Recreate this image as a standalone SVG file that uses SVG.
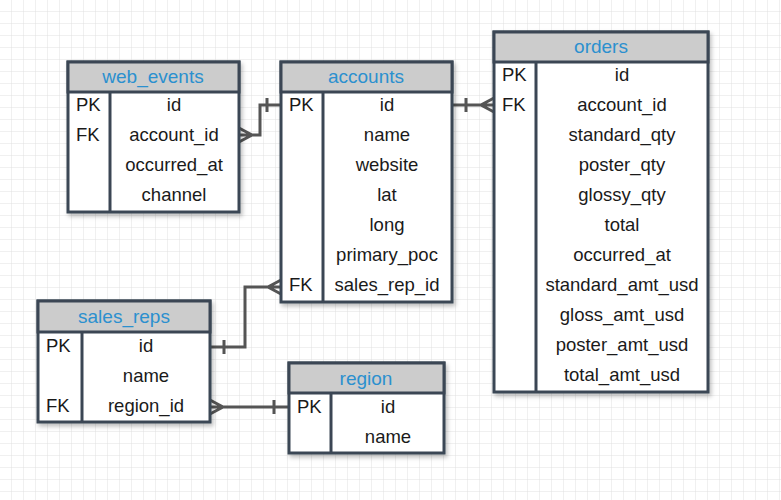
<svg xmlns="http://www.w3.org/2000/svg" width="781" height="500" viewBox="0 0 781 500">
<defs>
<pattern id="g" width="12" height="12" patternUnits="userSpaceOnUse"><path d="M12 0V12M0 12H12" fill="none" stroke="#e0e0e0" stroke-width="1"/></pattern>
<filter id="s" x="-10%" y="-10%" width="130%" height="130%"><feDropShadow dx="2" dy="3" stdDeviation="2" flood-color="#000" flood-opacity="0.25"/></filter>
</defs>
<style>
.b{fill:#fff;stroke:#3b4654;stroke-width:3;filter:url(#s)}
.h{fill:#cccccc;stroke:#3b4654;stroke-width:3}
.l{stroke:#3b4654;stroke-width:3;fill:none}
.t{font-family:"Liberation Sans",Arial,sans-serif;font-size:18.5px;fill:#1a1a1a}
.c{text-anchor:middle}
.ht{font-family:"Liberation Sans",Arial,sans-serif;font-size:19px;fill:#2b90cf;text-anchor:middle}
.k{stroke:#555;stroke-width:3;fill:none}
</style>
<rect width="781" height="500" fill="#fff"/>
<rect width="781" height="500" fill="url(#g)"/>
<g id="connectors">
<path class="k" d="M239 135H252M239 128L252 135L239 142M252 135H260V105H281M267 98V112"/>
<path class="k" d="M452 105H494M494 98L481 105L494 112M466 98V112"/>
<path class="k" d="M210 347H245V287H281M281 280L268 287L281 294M224 340V354"/>
<path class="k" d="M210 407H289M210 400L223 407L210 414M274 400V414"/>
</g>
<g id="web_events">
<rect class="b" x="68" y="62" width="171" height="150"/>
<rect class="h" x="68" y="62" width="171" height="30"/>
<line class="l" x1="110" y1="92" x2="110" y2="212"/>
<text class="ht" x="153" y="83">web_events</text>
<text class="t" x="76" y="111">PK</text><text class="t" x="76" y="141">FK</text>
<text class="t c" x="174" y="111">id</text><text class="t c" x="174" y="141">account_id</text>
<text class="t c" x="174" y="171">occurred_at</text><text class="t c" x="174" y="201">channel</text>
</g>
<g id="accounts">
<rect class="b" x="281" y="62" width="171" height="240"/>
<rect class="h" x="281" y="62" width="171" height="30"/>
<line class="l" x1="323" y1="92" x2="323" y2="302"/>
<text class="ht" x="366" y="83">accounts</text>
<text class="t" x="289" y="111">PK</text><text class="t" x="289" y="291">FK</text>
<text class="t c" x="387" y="111">id</text><text class="t c" x="387" y="141">name</text>
<text class="t c" x="387" y="171">website</text><text class="t c" x="387" y="201">lat</text>
<text class="t c" x="387" y="231">long</text><text class="t c" x="387" y="261">primary_poc</text>
<text class="t c" x="387" y="291">sales_rep_id</text>
</g>
<g id="orders">
<rect class="b" x="494" y="32" width="214" height="360"/>
<rect class="h" x="494" y="32" width="214" height="30"/>
<line class="l" x1="536" y1="62" x2="536" y2="392"/>
<text class="ht" x="601" y="53">orders</text>
<text class="t" x="502" y="81">PK</text><text class="t" x="502" y="111">FK</text>
<text class="t c" x="622" y="81">id</text><text class="t c" x="622" y="111">account_id</text>
<text class="t c" x="622" y="141">standard_qty</text><text class="t c" x="622" y="171">poster_qty</text>
<text class="t c" x="622" y="201">glossy_qty</text><text class="t c" x="622" y="231">total</text>
<text class="t c" x="622" y="261">occurred_at</text><text class="t c" x="622" y="291">standard_amt_usd</text>
<text class="t c" x="622" y="321">gloss_amt_usd</text><text class="t c" x="622" y="351">poster_amt_usd</text>
<text class="t c" x="622" y="381">total_amt_usd</text>
</g>
<g id="sales_reps">
<rect class="b" x="38" y="301" width="172" height="121"/>
<rect class="h" x="38" y="301" width="172" height="31"/>
<line class="l" x1="82" y1="332" x2="82" y2="422"/>
<text class="ht" x="124" y="323">sales_reps</text>
<text class="t" x="46" y="352">PK</text><text class="t" x="46" y="412">FK</text>
<text class="t c" x="146" y="352">id</text><text class="t c" x="146" y="382">name</text>
<text class="t c" x="146" y="412">region_id</text>
</g>
<g id="region">
<rect class="b" x="289" y="363" width="155" height="90"/>
<rect class="h" x="289" y="363" width="155" height="30"/>
<line class="l" x1="331" y1="393" x2="331" y2="453"/>
<text class="ht" x="366" y="385">region</text>
<text class="t" x="297" y="413">PK</text>
<text class="t c" x="388" y="413">id</text><text class="t c" x="388" y="443">name</text>
</g>
</svg>
